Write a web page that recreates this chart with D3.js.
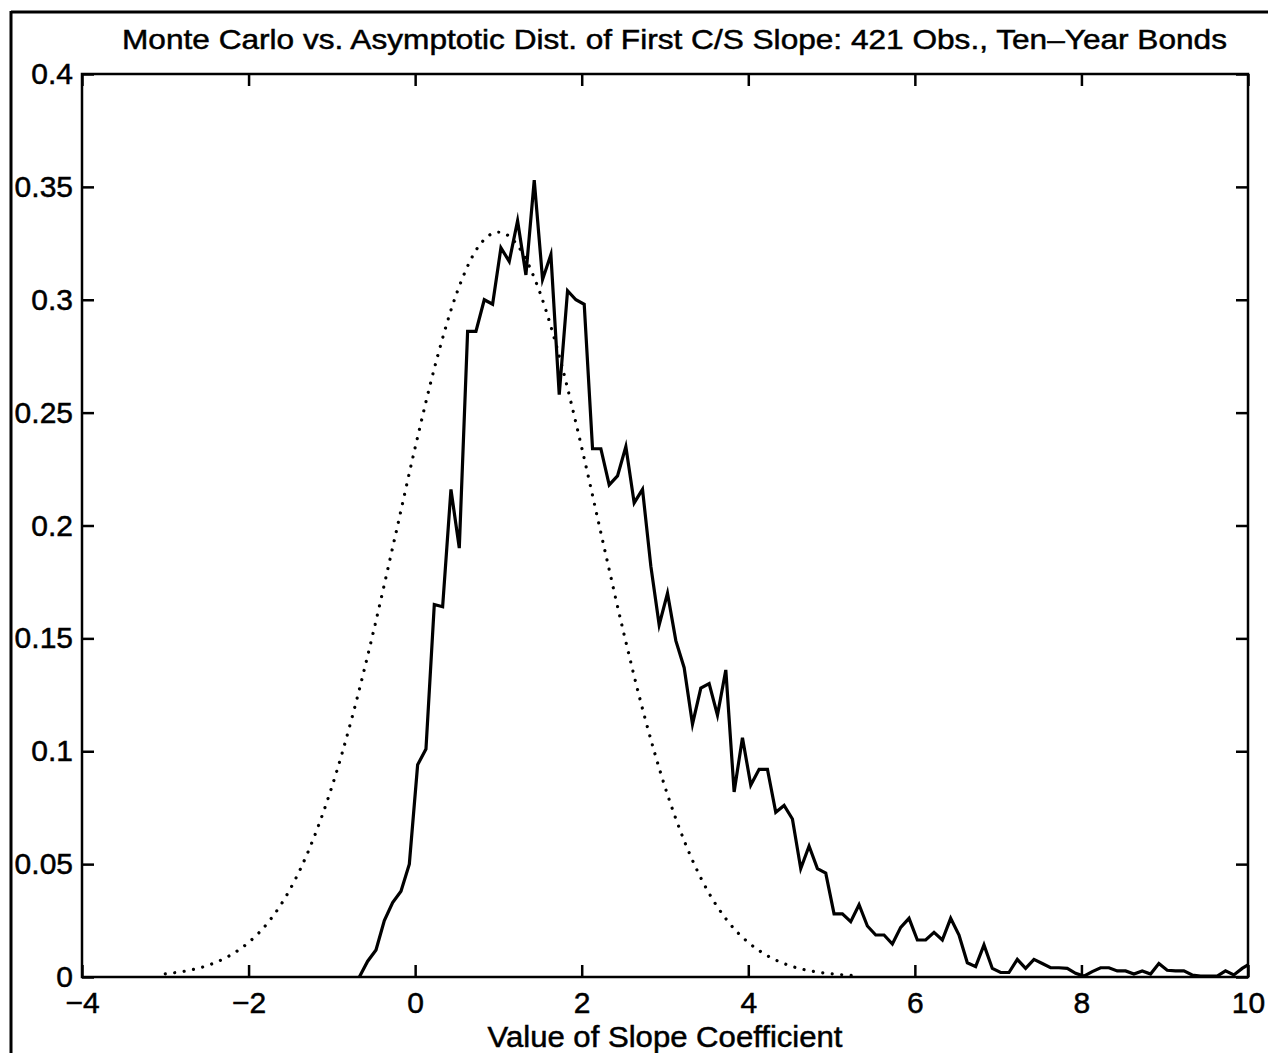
<!DOCTYPE html>
<html>
<head>
<meta charset="utf-8">
<script src="https://cdn.jsdelivr.net/npm/d3@7"></script>
<style>
  html, body { margin: 0; padding: 0; background: #fff; }
  svg { display: block; }
  text { font-family: "Liberation Sans", Arial, Helvetica, sans-serif; fill: #000; }
</style>
</head>
<body>
<svg id="chart" width="1268" height="1053"></svg>
<script>
// ---- Data ----
const titleText = "Monte Carlo vs. Asymptotic Dist. of First C/S Slope: 421 Obs., Ten\u2013Year Bonds";
const xLabelText = "Value of Slope Coefficient";
const xTicks = [-4, -2, 0, 2, 4, 6, 8, 10];
const xTickLabels = ["\u22124", "\u22122", "0", "2", "4", "6", "8", "10"];
const yTicks = [0, 0.05, 0.1, 0.15, 0.2, 0.25, 0.3, 0.35, 0.4];
const yTickLabels = ["0", "0.05", "0.1", "0.15", "0.2", "0.25", "0.3", "0.35", "0.4"];

// Monte Carlo histogram (solid line): first bin centre and bin width
const mcStart = -0.67;
const mcWidth = 0.1;
const mcValues = [
  0, 0.007, 0.012, 0.025, 0.033, 0.038, 0.050, 0.094, 0.101, 0.165,
  0.164, 0.216, 0.190, 0.286, 0.286, 0.300, 0.298, 0.323, 0.317, 0.335,
  0.311, 0.353, 0.309, 0.320, 0.258, 0.304, 0.300, 0.298, 0.234, 0.234,
  0.218, 0.222, 0.235, 0.210, 0.216, 0.182, 0.156, 0.170, 0.149, 0.137,
  0.112, 0.128, 0.130, 0.116, 0.136, 0.082, 0.106, 0.085, 0.092, 0.092,
  0.073, 0.076, 0.070, 0.048, 0.058, 0.048, 0.046, 0.028, 0.028, 0.0245,
  0.032, 0.0226, 0.0186, 0.0186, 0.0146, 0.022, 0.026, 0.0164, 0.0164, 0.0198,
  0.0164, 0.026, 0.0186, 0.0063, 0.0046, 0.0142, 0.0038, 0.002, 0.002, 0.0078,
  0.0038, 0.0078, 0.006, 0.0041, 0.0041, 0.0038, 0.0016, 0.0004, 0.0024, 0.0041,
  0.0041, 0.0027, 0.0027, 0.0013, 0.0027, 0.0013, 0.006, 0.003, 0.0027, 0.0027,
  0.0009, 0.0004, 0.0004, 0.0004, 0.0027, 0.0009, 0.0038, 0.006
];

// Asymptotic distribution (dotted line)
const asyX = [-3, -2.75, -2.5, -2.25, -2, -1.75, -1.5, -1.25, -1, -0.75, -0.5, -0.25,
  0, 0.25, 0.5, 0.75, 1, 1.25, 1.5, 1.75, 2, 2.25, 2.5, 2.75, 3, 3.25, 3.5, 3.75,
  4, 4.25, 4.5, 4.75, 5, 5.25];
const asyY = [0.0014, 0.0027, 0.0050, 0.0090, 0.0153, 0.0249, 0.0390, 0.0586, 0.0842, 0.1160, 0.1531, 0.1935,
  0.2345, 0.2723, 0.3030, 0.3230, 0.3300, 0.3230, 0.3030, 0.2723, 0.2345, 0.1935, 0.1531, 0.1160,
  0.0842, 0.0586, 0.0390, 0.0249, 0.0153, 0.0090, 0.0050, 0.0027, 0.0014, 0.0007];

// ---- Layout ----
const W = 1268, H = 1053;
const plot = { left: 82, right: 1248, top: 74, bottom: 977 };
const tickLen = 12;

const svg = d3.select("#chart");
svg.append("rect").attr("width", W).attr("height", H).attr("fill", "#fff");

// page frame lines (scan border)
svg.append("line").attr("x1", 11).attr("x2", W).attr("y1", 12).attr("y2", 12)
  .attr("stroke", "#000").attr("stroke-width", 3);
svg.append("line").attr("x1", 11).attr("x2", 11).attr("y1", 11).attr("y2", H)
  .attr("stroke", "#000").attr("stroke-width", 3);

const x = d3.scaleLinear().domain([-4, 10]).range([plot.left, plot.right]);
const y = d3.scaleLinear().domain([0, 0.4]).range([plot.bottom, plot.top]);

const fs = 30;

// Axes
const gB = svg.append("g").attr("transform", `translate(0,${plot.bottom})`)
  .call(d3.axisBottom(x).tickValues(xTicks).tickSizeInner(-tickLen).tickSizeOuter(0)
    .tickPadding(15).tickFormat((d, i) => xTickLabels[i]));
const gL = svg.append("g").attr("transform", `translate(${plot.left},0)`)
  .call(d3.axisLeft(y).tickValues(yTicks).tickSizeInner(-tickLen).tickSizeOuter(0)
    .tickPadding(9).tickFormat((d, i) => yTickLabels[i]));
const gT = svg.append("g").attr("transform", `translate(0,${plot.top})`)
  .call(d3.axisTop(x).tickValues(xTicks).tickSizeInner(-tickLen).tickSizeOuter(0).tickFormat(""));
const gR = svg.append("g").attr("transform", `translate(${plot.right},0)`)
  .call(d3.axisRight(y).tickValues(yTicks).tickSizeInner(-tickLen).tickSizeOuter(0).tickFormat(""));

[gB, gL, gT, gR].forEach(g => {
  g.select(".domain").remove();
  g.selectAll(".tick line").attr("stroke", "#000").attr("stroke-width", 2.5);
  g.selectAll("text").attr("font-size", fs)
    .attr("font-family", '"Liberation Sans", Arial, Helvetica, sans-serif').attr("fill", "#000")
    .attr("stroke", "#000").attr("stroke-width", 0.5);
  g.attr("font-size", fs);
});

// clip
svg.append("clipPath").attr("id", "clip").append("rect")
  .attr("x", plot.left).attr("y", plot.top)
  .attr("width", plot.right - plot.left).attr("height", plot.bottom - plot.top);

// Asymptotic (dotted)
const asyData = asyX.map((v, i) => [v, asyY[i]]);
svg.append("path").datum(asyData)
  .attr("clip-path", "url(#clip)")
  .attr("fill", "none").attr("stroke", "#000").attr("stroke-width", 3.2)
  .attr("stroke-linecap", "round").attr("stroke-dasharray", "0.01 9.5")
  .attr("d", d3.line().x(d => x(d[0])).y(d => y(d[1])).curve(d3.curveMonotoneX));

// Monte Carlo (solid)
const mcData = mcValues.map((v, i) => [mcStart + mcWidth * i, v]);
svg.append("path").datum(mcData)
  .attr("clip-path", "url(#clip)")
  .attr("fill", "none").attr("stroke", "#000").attr("stroke-width", 3.2)
  .attr("stroke-linejoin", "miter").attr("stroke-miterlimit", 6)
  .attr("d", d3.line().x(d => x(d[0])).y(d => y(d[1])));

// plot box
svg.append("rect").attr("x", plot.left).attr("y", plot.top)
  .attr("width", plot.right - plot.left).attr("height", plot.bottom - plot.top)
  .attr("fill", "none").attr("stroke", "#000").attr("stroke-width", 2.5);

// Title
svg.append("text").attr("x", 122).attr("y", 49)
  .attr("font-size", 28).attr("textLength", 1105).attr("lengthAdjust", "spacingAndGlyphs")
  .attr("stroke", "#000").attr("stroke-width", 0.5)
  .text(titleText);

// X label
svg.append("text").attr("x", (plot.left + plot.right) / 2).attr("y", 1047)
  .attr("text-anchor", "middle").attr("font-size", 29)
  .attr("textLength", 355).attr("lengthAdjust", "spacingAndGlyphs")
  .attr("stroke", "#000").attr("stroke-width", 0.5)
  .text(xLabelText);
</script>
</body>
</html>
